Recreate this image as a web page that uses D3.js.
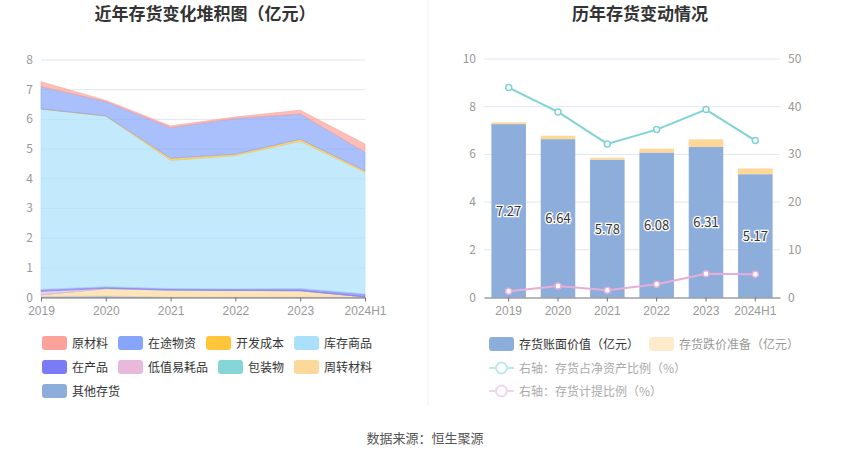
<!DOCTYPE html>
<html>
<head>
<meta charset="utf-8">
<script src="https://cdn.jsdelivr.net/npm/d3@7"></script>
<style>
  body { margin: 0; background: #fff; }
  svg { font-family: "Noto Sans CJK SC", "Noto Sans", sans-serif; }
</style>
</head>
<body>
<div id="chart"></div>
<script>
// data
var years = ["2019", "2020", "2021", "2022", "2023", "2024H1"];

// stacked inventory components (亿元)
var rawMaterial   = [0.17, 0.04, 0.06, 0.05, 0.13, 0.28];  // 原材料
var inTransit     = [0.75, 0.48, 1.03, 1.20, 0.85, 0.62];  // 在途物资
var devCost       = [0.00, 0.01, 0.07, 0.05, 0.07, 0.05];  // 开发成本
var goods         = [6.08, 5.75, 4.32, 4.49, 4.96, 4.10];  // 库存商品
var wip           = [0.06, 0.05, 0.05, 0.05, 0.07, 0.10];  // 在产品
var lowValue      = [0.12, 0.01, 0.00, 0.00, 0.00, 0.00];  // 低值易耗品
var packaging     = [0.00, 0.00, 0.00, 0.00, 0.00, 0.00];  // 包装物
var turnover      = [0.06, 0.25, 0.24, 0.23, 0.22, 0.02];  // 周转材料
var otherStock    = [0.03, 0.05, 0.01, 0.01, 0.01, 0.00];  // 其他存货

var leftTicks = [0, 1, 2, 3, 4, 5, 6, 7, 8];

// right chart
var bookValue  = [7.27, 6.64, 5.78, 6.08, 6.31, 5.17];
var provision  = [0.07, 0.14, 0.08, 0.16, 0.32, 0.24];
var netAssetPct = [44.0, 38.9, 32.2, 35.2, 39.4, 32.9];
var provisionPct = [1.3, 2.4, 1.5, 2.8, 5.0, 4.9];
var rightTicksL = [0, 2, 4, 6, 8, 10];
var rightTicksR = [0, 10, 20, 30, 40, 50];

var layers = [
  {name: "原材料", values: rawMaterial, color: "#fba39a"},
  {name: "在途物资", values: inTransit, color: "#86a5fb"},
  {name: "开发成本", values: devCost, color: "#ffc53a"},
  {name: "库存商品", values: goods, color: "#a9e1fb"},
  {name: "在产品", values: wip, color: "#7b7bf5"},
  {name: "低值易耗品", values: lowValue, color: "#e8b9da"},
  {name: "包装物", values: packaging, color: "#86d6d8"},
  {name: "周转材料", values: turnover, color: "#fdd89b"},
  {name: "其他存货", values: otherStock, color: "#8daddb"}
];

var W = 850, H = 459;
var svg = d3.select("#chart").append("svg")
            .attr("width", W).attr("height", H);

// titles
svg.append("text").attr("x", 205).attr("y", 20).attr("text-anchor", "middle")
   .attr("font-size", 17).attr("font-weight", "bold").attr("fill", "#333")
   .text("近年存货变化堆积图（亿元）");
svg.append("text").attr("x", 640).attr("y", 20).attr("text-anchor", "middle")
   .attr("font-size", 17).attr("font-weight", "bold").attr("fill", "#333")
   .text("历年存货变动情况");

// divider
svg.append("line").attr("x1", 428).attr("x2", 428).attr("y1", 0).attr("y2", 405)
   .attr("stroke", "#eeeeee");

// ---------- left: stacked area ----------
var x1 = d3.scalePoint().domain(years).range([41, 365]);
var y1 = d3.scaleLinear().domain([0, 8]).range([297.5, 60]);

var g1 = svg.append("g");

g1.selectAll(".grid").data(leftTicks.slice(1)).enter().append("line")
  .attr("x1", 41).attr("x2", 365)
  .attr("y1", function(d){ return y1(d) }).attr("y2", function(d){ return y1(d) })
  .attr("stroke", "#e0e6f1");

var table = years.map(function(yr, i){
  var row = {year: yr};
  layers.forEach(function(l){ row[l.name] = l.values[i] });
  return row;
});

// bottom first = reverse of legend order
var stackKeys = layers.map(function(l){ return l.name }).reverse();
var stacked = d3.stack().keys(stackKeys)(table);
var colorOf = {};
layers.forEach(function(l){ colorOf[l.name] = l.color });

var area = d3.area()
             .x(function(d){ return x1(d.data.year) })
             .y0(function(d){ return y1(d[0]) })
             .y1(function(d){ return y1(d[1]) });

g1.selectAll(".layer").data(stacked).enter().append("path")
  .attr("d", area)
  .attr("fill", function(d){ return colorOf[d.key] })
  .attr("fill-opacity", 0.7)
  .attr("stroke", function(d){ return colorOf[d.key] })
  .attr("stroke-width", 0.6);

g1.append("g").attr("transform", "translate(0,297.5)")
  .call(d3.axisBottom(x1).tickSize(4).tickSizeOuter(0))
  .call(function(g){
    g.select(".domain").attr("stroke", "#6e7079");
    g.selectAll(".tick line").attr("stroke", "#6e7079");
    g.selectAll("text").attr("fill", "#999").attr("font-size", 12).attr("dy", "0.9em");
  });

g1.selectAll(".ylab").data(leftTicks).enter().append("text")
  .attr("x", 33).attr("y", function(d){ return y1(d) + 4 })
  .attr("text-anchor", "end").attr("font-size", 12).attr("fill", "#999")
  .text(function(d){ return d });

// ---------- right: bars + lines ----------
var x2 = d3.scaleBand().domain(years).range([484, 780]).paddingInner(0.3).paddingOuter(0.15);
var y2 = d3.scaleLinear().domain([0, 10]).range([297.5, 59]);
var y3 = d3.scaleLinear().domain([0, 50]).range([297.5, 59]);

var g2 = svg.append("g");
g2.selectAll(".grid").data(rightTicksL.slice(1)).enter().append("line")
  .attr("x1", 484).attr("x2", 780)
  .attr("y1", function(d){ return y2(d) }).attr("y2", function(d){ return y2(d) })
  .attr("stroke", "#e0e6f1");

g2.selectAll(".bookbar").data(bookValue).enter().append("rect")
  .attr("x", function(d, i){ return x2(years[i]) })
  .attr("width", x2.bandwidth())
  .attr("y", function(d){ return y2(d) })
  .attr("height", function(d){ return y2(0) - y2(d) })
  .attr("fill", "#8daddb");

g2.selectAll(".provbar").data(provision).enter().append("rect")
  .attr("x", function(d, i){ return x2(years[i]) })
  .attr("width", x2.bandwidth())
  .attr("y", function(d, i){ return y2(bookValue[i] + d) })
  .attr("height", function(d, i){ return y2(bookValue[i]) - y2(bookValue[i] + d) })
  .attr("fill", "#ffd796");

g2.selectAll(".barlab").data(bookValue).enter().append("text")
  .attr("x", function(d, i){ return x2(years[i]) + x2.bandwidth() / 2 })
  .attr("y", function(d){ return y2(d / 2) + 5 })
  .attr("text-anchor", "middle").attr("font-size", 13).attr("fill", "#333")
  .attr("stroke", "#fff").attr("stroke-width", 2.5).attr("paint-order", "stroke")
  .text(function(d){ return d.toFixed(2) });

var cx = function(i){ return x2(years[i]) + x2.bandwidth() / 2 };

function drawLine(vals, color){
  var line = d3.line()
               .x(function(d, i){ return cx(i) })
               .y(function(d){ return y3(d) });
  g2.append("path").datum(vals).attr("d", line)
    .attr("fill", "none").attr("stroke", color).attr("stroke-width", 2);
  g2.selectAll(null).data(vals).enter().append("circle")
    .attr("cx", function(d, i){ return cx(i) })
    .attr("cy", function(d){ return y3(d) })
    .attr("r", 3).attr("fill", "#fff")
    .attr("stroke", color).attr("stroke-width", 1.5);
}
drawLine(netAssetPct, "#7fd3d6");
drawLine(provisionPct, "#e6aed8");

g2.append("g").attr("transform", "translate(0,297.5)")
  .call(d3.axisBottom(x2).tickSize(4).tickSizeOuter(0))
  .call(function(g){
    g.select(".domain").attr("stroke", "#6e7079");
    g.selectAll(".tick line").attr("stroke", "#6e7079");
    g.selectAll("text").attr("fill", "#999").attr("font-size", 12).attr("dy", "0.9em");
  });

g2.selectAll(".ylabL").data(rightTicksL).enter().append("text")
  .attr("x", 476).attr("y", function(d){ return y2(d) + 4 })
  .attr("text-anchor", "end").attr("font-size", 12).attr("fill", "#999")
  .text(function(d){ return d });
g2.selectAll(".ylabR").data(rightTicksR).enter().append("text")
  .attr("x", 788).attr("y", function(d){ return y3(d) + 4 })
  .attr("text-anchor", "start").attr("font-size", 12).attr("fill", "#999")
  .text(function(d){ return d });

// ---------- legends ----------
// flow layout: items wrap inside a fixed width, like echarts legends
var leg1 = svg.append("g");
var lx = 42, ly = 343;
layers.forEach(function(l){
  var item = leg1.append("g");
  item.append("rect").attr("x", 0).attr("y", -7).attr("width", 25).attr("height", 14)
      .attr("rx", 3).attr("fill", l.color);
  var t = item.append("text").attr("x", 30).attr("y", 4.5)
      .attr("font-size", 12).attr("fill", "#333").text(l.name);
  var w = 30 + t.node().getComputedTextLength() + 10;
  if (lx + w > 385) { lx = 42; ly += 24; }
  item.attr("transform", "translate(" + lx + "," + ly + ")");
  lx += w;
});

var leg2 = svg.append("g");
var rectItems = [
  {name: "存货账面价值（亿元）", color: "#8daddb", text: "#333", x: 489, y: 344},
  {name: "存货跌价准备（亿元）", color: "#ffebcc", text: "#999", x: 649, y: 344}
];
rectItems.forEach(function(it){
  leg2.append("rect").attr("x", it.x).attr("y", it.y - 7).attr("width", 25).attr("height", 14)
      .attr("rx", 3).attr("fill", it.color);
  leg2.append("text").attr("x", it.x + 30).attr("y", it.y + 4.5)
      .attr("font-size", 12).attr("fill", it.text).text(it.name);
});
var lineItems = [
  {name: "右轴：存货占净资产比例（%）", color: "#b9e9eb", y: 368},
  {name: "右轴：存货计提比例（%）", color: "#f3d3eb", y: 391}
];
lineItems.forEach(function(it){
  leg2.append("line").attr("x1", 489).attr("x2", 514).attr("y1", it.y).attr("y2", it.y)
      .attr("stroke", it.color).attr("stroke-width", 2);
  leg2.append("circle").attr("cx", 501.5).attr("cy", it.y).attr("r", 5.5)
      .attr("fill", "#fff").attr("stroke", it.color).attr("stroke-width", 2);
  leg2.append("text").attr("x", 519).attr("y", it.y + 4.5)
      .attr("font-size", 12).attr("fill", "#aaa").text(it.name);
});

// source
svg.append("text").attr("x", 425).attr("y", 443).attr("text-anchor", "middle")
   .attr("font-size", 13).attr("fill", "#555").text("数据来源：恒生聚源");
</script>
</body>
</html>
